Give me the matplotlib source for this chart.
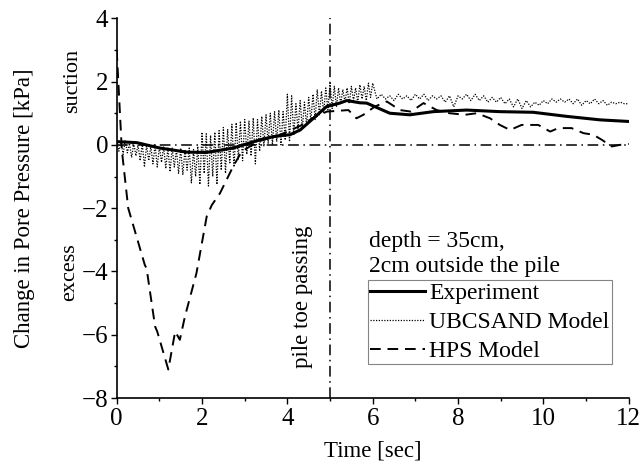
import matplotlib
matplotlib.use("Agg")
import matplotlib.pyplot as plt

plt.rcParams['font.family'] = ['Liberation Serif', 'DejaVu Serif']

# ---- data ----
exp_t = [0.0, 0.04, 0.47, 1.01, 1.64, 2.1, 2.73, 3.36, 3.67, 3.9, 4.06, 4.3, 4.61, 4.92,
         5.23, 5.39, 5.7, 5.86, 6.4, 6.87, 7.42, 8.2, 8.98, 9.76, 10.55, 11.33, 12.0]
exp_v = [0.1, 0.1, 0.07, -0.1, -0.23, -0.24, -0.1, 0.16, 0.26, 0.3, 0.32, 0.47, 0.84, 1.21,
         1.32, 1.4, 1.33, 1.32, 1.0, 0.95, 1.05, 1.1, 1.05, 1.03, 0.9, 0.79, 0.74]

ubc_t = [0.00, 0.05, 0.10, 0.15, 0.20, 0.25, 0.30, 0.35, 0.40, 0.45, 0.50, 0.55, 0.60,
         0.65, 0.70, 0.75, 0.80, 0.85, 0.90, 0.95, 1.00, 1.05, 1.10, 1.15, 1.20, 1.25,
         1.30, 1.35, 1.40, 1.45, 1.50, 1.55, 1.60, 1.65, 1.70, 1.75, 1.80, 1.85, 1.90,
         1.95, 2.00, 2.05, 2.10, 2.15, 2.20, 2.25, 2.30, 2.35, 2.40, 2.45, 2.50, 2.55,
         2.60, 2.65, 2.70, 2.75, 2.80, 2.85, 2.90, 2.95, 3.00, 3.05, 3.10, 3.15, 3.20,
         3.25, 3.30, 3.35, 3.40, 3.45, 3.50, 3.55, 3.60, 3.65, 3.70, 3.75, 3.80, 3.85,
         3.90, 3.95, 4.00, 4.05, 4.10, 4.15, 4.20, 4.25, 4.30, 4.35, 4.40, 4.45, 4.50,
         4.55, 4.60, 4.65, 4.70, 4.75, 4.80, 4.85, 4.90, 4.95, 5.00, 5.05, 5.10, 5.15,
         5.20, 5.25, 5.30, 5.35, 5.40, 5.45, 5.50, 5.55, 5.60, 5.65, 5.70, 5.75, 5.80,
         5.85, 5.90, 5.95, 6.00,
         6.1, 6.2, 6.3, 6.4, 6.5, 6.6, 6.7, 6.8, 6.9, 7.0, 7.1, 7.2, 7.3, 7.4, 7.5, 7.6,
         7.7, 7.8, 7.9, 8.0, 8.1, 8.2, 8.3, 8.4, 8.5, 8.6, 8.7, 8.8, 8.9, 9.0, 9.1, 9.2,
         9.3, 9.4, 9.5, 9.6, 9.7, 9.8, 9.9, 10.0, 10.1, 10.2, 10.3, 10.4, 10.5, 10.6,
         10.7, 10.8, 10.9, 11.0, 11.1, 11.2, 11.3, 11.4, 11.5, 11.6, 11.7, 11.8, 11.9, 12.0]
ubc_v = [0.15, -0.2, 0.1, -0.3, 0.15, -0.25, 0.05, -0.4, 0.05, -0.35, 0.0, -0.5, 0.05,
         -0.7, 0.0, -0.5, -0.05, -0.6, 0.0, -0.7, -0.05, -0.55, -0.05, -0.75, -0.1, -0.85,
         -0.1, -0.7, -0.15, -0.9, -0.1, -0.95, -0.15, -0.8, -0.1, -1.2, -0.15, -1.0, -0.05,
         -1.25, 0.4, -0.9, 0.35, -1.3, 0.3, -1.0, 0.4, -1.25, 0.45, -0.8, 0.55, -0.9,
         0.5, -0.6, 0.65, -0.7, 0.7, -0.45, 0.75, -0.5, 0.8, -0.3, 0.75, -0.35, 0.85,
         -0.6, 0.8, -0.2, 0.9, -0.05, 0.95, 0.05, 1.0, 0.0, 1.05, 0.1, 1.1, 0.0,
         1.05, 0.15, 1.6, 0.1, 1.55, 0.3, 1.3, 0.45, 1.4, 0.5, 1.35, 0.6, 1.5,
         0.75, 1.6, 0.8, 1.75, 0.95, 1.7, 1.0, 1.8, 1.1, 1.95, 1.15, 1.85, 1.2,
         1.8, 1.3, 1.75, 1.35, 1.8, 1.3, 1.85, 1.4, 1.8, 1.35, 1.9, 1.45, 1.85,
         1.4, 1.95, 1.5, 1.95,
         1.45, 1.6, 1.45, 1.55, 1.4, 1.6, 1.45, 1.55, 1.4, 1.6, 1.45, 1.6, 1.4, 1.55, 1.45, 1.55,
         1.35, 1.55, 1.2, 1.55, 1.45, 1.6, 1.4, 1.6, 1.4, 1.55, 1.35, 1.5, 1.35, 1.5, 1.3, 1.45,
         1.2, 1.45, 1.15, 1.4, 1.2, 1.35, 1.25, 1.4, 1.3, 1.45, 1.35, 1.45, 1.35, 1.45,
         1.3, 1.45, 1.25, 1.4, 1.3, 1.45, 1.3, 1.4, 1.25, 1.35, 1.3, 1.35, 1.3, 1.3]

hps_t = [0.0, 0.12, 0.27, 0.66, 0.7, 0.9, 0.95, 1.21, 1.37, 1.48, 1.6, 1.87, 2.11, 2.23,
         2.42, 2.73, 2.93, 3.3, 3.8, 4.3, 4.6, 4.92, 5.43, 5.62, 5.78, 6.05, 6.33, 6.64,
         6.9, 7.19, 7.5, 7.8, 8.16, 8.44, 8.75, 8.98, 9.22, 9.49, 9.88, 10.16, 10.35,
         10.66, 10.94, 11.17, 11.37, 11.6, 11.8, 12.0]
hps_v = [3.0, -0.16, -2.0, -3.8, -3.9, -5.74, -5.9, -7.1, -5.9, -6.16, -5.42, -4.05,
         -2.26, -1.9, -1.53, -0.68, -0.21, 0.1, 0.3, 0.6, 0.85, 1.05, 1.1, 0.84, 0.95,
         1.21, 1.37, 1.1, 1.05, 1.32, 1.1, 1.0, 0.95, 1.0, 0.84, 0.63, 0.47, 0.63, 0.63,
         0.42, 0.53, 0.53, 0.37, 0.32, 0.16, -0.05, 0.0, 0.03]

xticks = [0, 2, 4, 6, 8, 10, 12]
yticks = [-8, -6, -4, -2, 0, 2, 4]
pile_toe_time = 5

# ---- figure ----
fig = plt.figure(figsize=(6.4, 4.73), dpi=100)
W, H = 640, 473
x0, x1, yt, yb = 116.7, 628.7, 18.3, 398.0
ax = fig.add_axes([x0 / W, 1 - yb / H, (x1 - x0) / W, (yb - yt) / H])

ax.plot(exp_t, exp_v, color='black', lw=2.2, label='Experiment', zorder=4)
ax.plot(ubc_t, ubc_v, color='black', lw=0.9, linestyle=(0, (1, 1.2)),
        label='UBCSAND Model', zorder=3)
ax.plot(hps_t, hps_v, color='black', lw=1.4, linestyle=(0, (5.5, 3.5)),
        label='HPS Model', zorder=3)

ax.axhline(0, color='black', lw=1.1, linestyle=(0, (7, 3, 1, 3)), zorder=2)
ax.axvline(pile_toe_time, color='black', lw=1.1, linestyle=(0, (7, 3, 1, 3)), zorder=2)

ax.set_xlim(0, 12)
ax.set_ylim(-8, 4)
ax.set_xticks(xticks)
ax.set_yticks(yticks)
ax.set_xticks([1, 3, 5, 7, 9, 11], minor=True)
ax.set_yticks([-7, -5, -3, -1, 1, 3], minor=True)
ax.tick_params(which='major', direction='out', length=4, width=1, labelsize=18, pad=2)
ax.tick_params(which='minor', direction='out', length=2.2, width=1)
ax.tick_params(axis='x', which='major', pad=3)
for s in ['top', 'right']:
    ax.spines[s].set_visible(False)
for s in ['left', 'bottom']:
    ax.spines[s].set_linewidth(1.2)

ax.set_xlabel('Time [sec]', fontsize=16.5, labelpad=8)
ax.set_ylabel('Change in Pore Pressure [kPa]', fontsize=16.5, labelpad=34)

fig.text(77 / W, 1 - 81 / H, 'suction', rotation=90, fontsize=16,
         ha='center', va='baseline', rotation_mode='anchor')
fig.text(74 / W, 1 - 272 / H, 'excess', rotation=90, fontsize=16,
         ha='center', va='baseline', rotation_mode='anchor')
fig.text(308 / W, 1 - 297 / H, 'pile toe passing', rotation=90, fontsize=16.5,
         ha='center', va='baseline', rotation_mode='anchor')
fig.text(369 / W, 1 - 247 / H, 'depth = 35cm,', fontsize=17, ha='left', va='baseline')
fig.text(369 / W, 1 - 272 / H, '2cm outside the pile', fontsize=17, ha='left', va='baseline')

leg = ax.legend(loc='upper left', bbox_to_anchor=((368 - x0) / (x1 - x0), (yb - 280) / (yb - yt)),
                fontsize=17, frameon=True, fancybox=False, borderpad=0.1,
                handlelength=2.3, handletextpad=0.2, labelspacing=0.32, borderaxespad=0)
leg.get_frame().set_edgecolor('#666666')
leg.get_frame().set_linewidth(0.8)

fig.savefig('out.png', dpi=100)
